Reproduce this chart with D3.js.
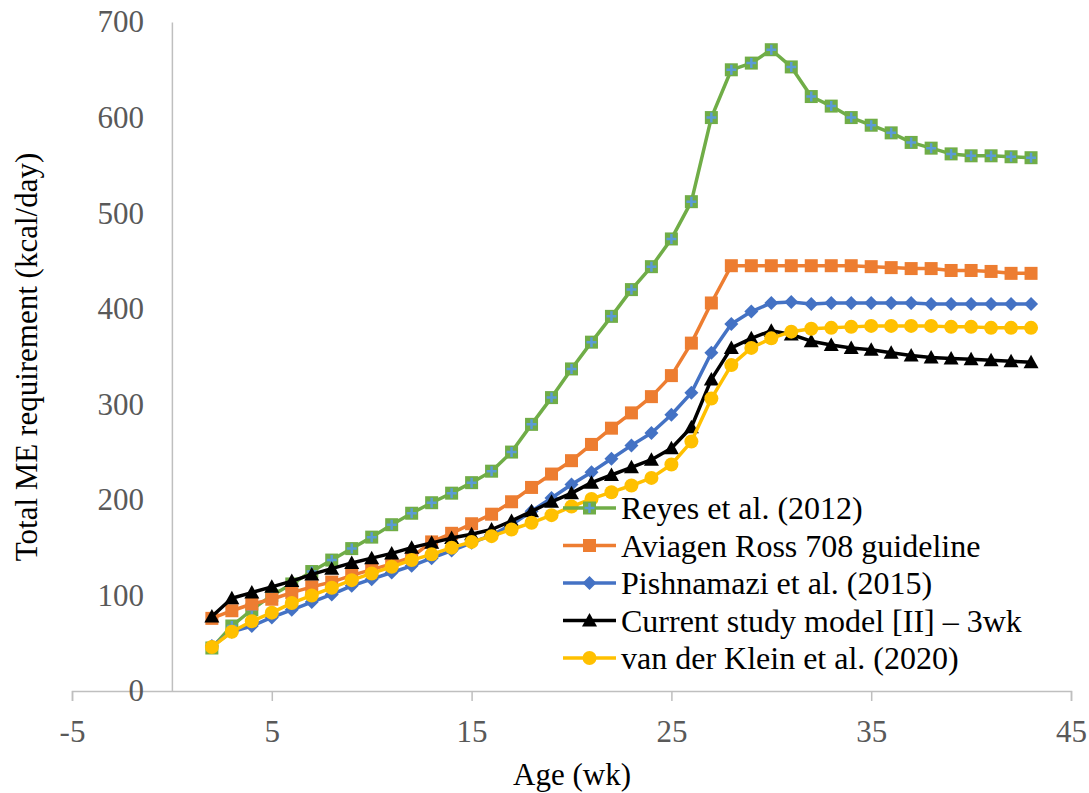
<!DOCTYPE html>
<html>
<head>
<meta charset="utf-8">
<script src="https://cdn.jsdelivr.net/npm/d3@7"></script>
<style>
  html, body { margin: 0; padding: 0; background: #fff; }
  svg { display: block; }
  text { font-family: "Liberation Serif", "Times New Roman", serif; }
</style>
</head>
<body>
<svg id="chart" width="1089" height="793"></svg>
<script>
// Age in weeks
const weeks = [2,3,4,5,6,7,8,9,10,11,12,13,14,15,16,17,18,19,20,21,22,23,24,25,26,27,28,29,30,31,32,33,34,35,36,37,38,39,40,41,42,43];

// Total ME requirement (kcal/day) per source
const reyes2012 = [45,68,85,100,112,125,137,149,161,174,186,197,207,218,230,250,279,307,337,365,392,420,444,473,512,600,650,657,671,653,622,612,600,592,584,574,568,562,560,560,559,558];
const aviagenRoss708 = [76,84,91,96,103,109,114,121,127,133,140,156,165,175,185,198,213,227,241,258,275,291,308,330,364,406,445,445,445,445,445,445,445,444,443,442,442,440,440,439,437,437];
const pishnamazi2015 = [47,62,68,77,85,93,101,110,117,124,131,139,147,155,163,174,188,202,216,229,243,257,270,289,312,354,384,397,406,407,405,406,406,406,406,406,405,405,405,405,405,405];
const currentModel = [78,97,103,109,115,122,128,134,139,144,150,155,160,164,169,178,188,198,207,218,226,234,242,254,276,326,359,369,377,373,366,362,359,357,354,351,349,348,347,346,345,344];
const vanDerKlein2020 = [46,62,73,82,92,100,108,116,123,130,137,143,150,156,162,169,176,184,193,201,208,215,223,237,261,306,341,359,369,376,379,380,381,382,382,382,382,381,381,380,380,380];

const seriesNames = ["Reyes et al. (2012)", "Aviagen Ross 708 guideline", "Pishnamazi et al. (2015)", "Current study model [II] \u2013 3wk", "van der Klein et al. (2020)"];
const seriesValues = [reyes2012, aviagenRoss708, pishnamazi2015, currentModel, vanDerKlein2020];
const seriesColors = ["#70AD47", "#ED7D31", "#4472C4", "#000000", "#FFC000"];
const seriesMarkers = ["squarePlus", "square", "diamond", "triangle", "circle"];

const xTicks = [-5, 5, 15, 25, 35, 45];
const yTicks = [0, 100, 200, 300, 400, 500, 600, 700];

const svg = d3.select("#chart");
const x = d3.scaleLinear().domain([-5, 45]).range([72, 1071]);
const y = d3.scaleLinear().domain([0, 700]).range([691, 22]);

const axisColor = "#bfbfbf";
const labelColor = "#595959";

// Horizontal axis with outward ticks
const xAxis = svg.append("g")
  .attr("transform", `translate(0,${y(0)})`)
  .call(d3.axisBottom(x).tickValues(xTicks).tickSize(10).tickPadding(19).tickFormat(d3.format("d")));
xAxis.select(".domain").attr("stroke", axisColor).attr("stroke-width", 1.5);
xAxis.selectAll(".tick line").attr("stroke", axisColor).attr("stroke-width", 1.5);
xAxis.selectAll(".tick text")
  .attr("fill", labelColor)
  .style("font-size", "31px")
  .style("font-family", "'Liberation Serif', 'Times New Roman', serif")
  .text(d => d < 0 ? "-" + Math.abs(d) : d);

// Vertical axis crossing at x = 0
const yAxis = svg.append("g")
  .attr("transform", `translate(${x(0)},0)`)
  .call(d3.axisLeft(y).tickValues(yTicks).tickSize(0).tickPadding(28).tickFormat(d3.format("d")));
yAxis.select(".domain").attr("stroke", axisColor).attr("stroke-width", 1.5);
yAxis.selectAll(".tick text")
  .attr("fill", labelColor)
  .style("font-size", "31px")
  .style("font-family", "'Liberation Serif', 'Times New Roman', serif");

// Axis titles
svg.append("text")
  .attr("x", 572).attr("y", 785)
  .attr("text-anchor", "middle")
  .style("font-size", "31px")
  .attr("fill", "#000")
  .text("Age (wk)");

svg.append("text")
  .attr("transform", "translate(37,357) rotate(-90)")
  .attr("text-anchor", "middle")
  .style("font-size", "31px")
  .attr("fill", "#000")
  .text("Total ME requirement (kcal/day)");

// Marker drawing
function drawMarker(g, type, color) {
  if (type === "squarePlus") {
    g.append("rect").attr("x", -6.5).attr("y", -6.5).attr("width", 13).attr("height", 13).attr("fill", color);
    g.append("path").attr("d", "M-5,0H5M0,-5V5").attr("stroke", "#5B9BD5").attr("stroke-width", 2.5).attr("fill", "none");
  } else if (type === "square") {
    g.append("rect").attr("x", -6.5).attr("y", -6.5).attr("width", 13).attr("height", 13).attr("fill", color);
  } else if (type === "diamond") {
    g.append("path").attr("d", "M0,-7L7,0L0,7L-7,0Z").attr("fill", color);
  } else if (type === "triangle") {
    g.append("path").attr("d", "M0,-7.5L7.5,6L-7.5,6Z").attr("fill", color);
  } else if (type === "circle") {
    g.append("circle").attr("r", 7).attr("fill", color);
  }
}

const line = d3.line().x(d => x(d[0])).y(d => y(d[1]));

seriesValues.forEach((vals, i) => {
  const pts = weeks.map((w, j) => [w, vals[j]]);
  const g = svg.append("g").attr("class", "series");
  g.append("path")
    .datum(pts)
    .attr("d", line)
    .attr("fill", "none")
    .attr("stroke", seriesColors[i])
    .attr("stroke-width", 3.5)
    .attr("stroke-linejoin", "round");
  g.selectAll("g.marker")
    .data(pts)
    .join("g")
    .attr("class", "marker")
    .attr("transform", d => `translate(${x(d[0])},${y(d[1])})`)
    .each(function() { drawMarker(d3.select(this), seriesMarkers[i], seriesColors[i]); });
});

// Legend
const legend = svg.append("g").attr("transform", "translate(563,508)");
seriesNames.forEach((name, i) => {
  const row = legend.append("g").attr("transform", `translate(0,${i * 37.5})`);
  row.append("line").attr("x1", 0).attr("x2", 53).attr("y1", 0).attr("y2", 0)
    .attr("stroke", seriesColors[i]).attr("stroke-width", 3.5);
  const m = row.append("g").attr("transform", "translate(26.5,0)");
  drawMarker(m, seriesMarkers[i], seriesColors[i]);
  row.append("text")
    .attr("x", 58).attr("y", 0).attr("dy", "0.35em")
    .style("font-size", "32px")
    .attr("fill", "#000")
    .text(name);
});
</script>
</body>
</html>
